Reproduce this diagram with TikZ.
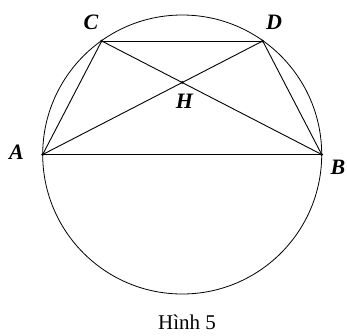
\documentclass[tikz,border=0pt]{standalone}
\usepackage{fontspec}
\setmainfont{Liberation Serif}
\begin{document}
\begin{tikzpicture}[x=1pt,y=-1pt,
  lbl/.style={font=\fontsize{22}{24}\selectfont\bfseries\itshape, inner sep=0pt},
  pt/.style={circle, fill=black, inner sep=0pt, minimum size=3pt},
  seg/.style={line width=0.9pt},
  circ/.style={line width=0.8pt}]
\useasboundingbox (0,0) rectangle (347,335);
\coordinate (O) at (182.2,154.5);
\node[pt] (A) at (42.7,154.5) {};
\node[pt] (B) at (321.7,154.5) {};
\node[pt] (C) at (101.7,41) {};
\node[pt] (D) at (262.7,41) {};
\node[pt] (H) at (182.2,82.3) {};
\draw[circ] (O) circle (139.5);
\draw[seg] (A.center) -- (B.center);
\draw[seg] (C.center) -- (D.center);
\draw[seg] (A.center) -- (C.center);
\draw[seg] (B.center) -- (D.center);
\draw[seg] (A.center) -- (D.center);
\draw[seg] (B.center) -- (C.center);
\node[lbl] (lA) at (16.5,152.5) {A};
\node[lbl] (lB) at (338,167) {B};
\node[lbl] (lC) at (91,22) {C};
\node[lbl] (lD) at (274,22) {D};
\node[lbl] (lH) at (184.5,101.7) {H};
\node[font=\fontsize{21}{24}\selectfont, inner sep=0pt, anchor=base] (cap) at (187,329.5) {Hình 5};
\end{tikzpicture}
\end{document}
